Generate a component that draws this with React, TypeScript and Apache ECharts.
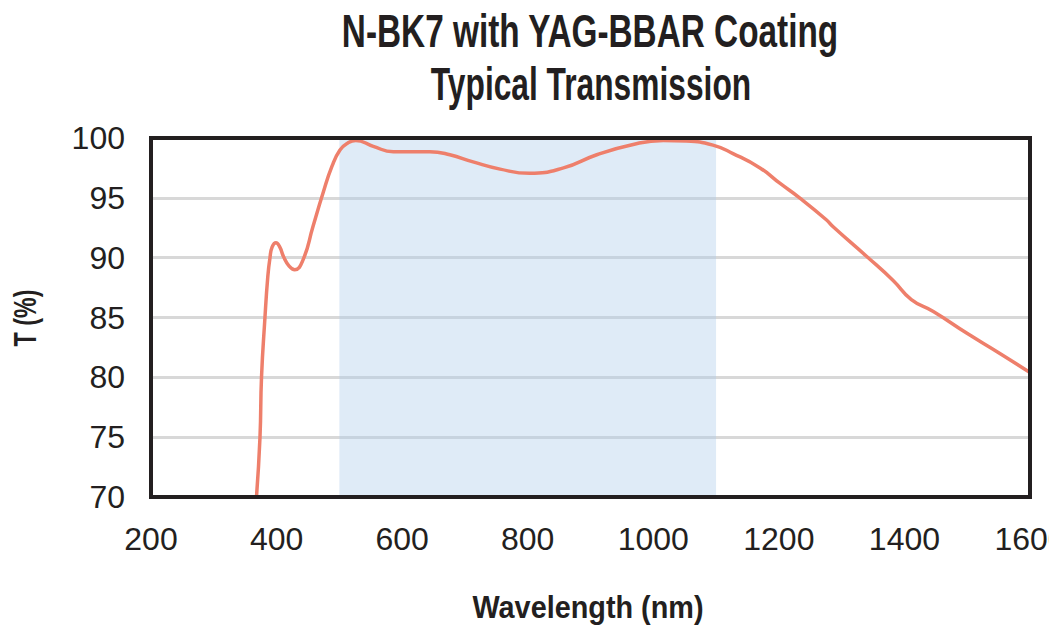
import React, { useEffect, useRef } from "react";
import * as echarts from "echarts";

const wavelengths = [
  368, 373.6, 376, 381.5, 386, 389.5, 393, 399, 405, 411, 420, 429, 442, 458, 474, 488, 501, 514, 526,
  554, 586, 644, 676, 713, 756, 803, 857, 910, 963, 1016, 1053, 1095, 1127, 1170, 1202, 1233, 1276,
  1286, 1340, 1382, 1411, 1446, 1499, 1552, 1600,
];
const transmission = [
  70, 75, 80, 85, 88.4, 90, 90.9, 91.25, 90.9, 90.1, 89.3, 89.0, 89.8, 92.6, 95.4, 97.6, 99.0, 99.6, 99.8,
  99.3, 98.85, 98.85, 98.6, 98.0, 97.4, 97.05, 97.5, 98.6, 99.4, 99.8, 99.75, 99.4, 98.7, 97.5, 96.2, 95.0,
  93.15, 92.6, 90.1, 88.1, 86.5, 85.5, 83.7, 82.0, 80.4,
];
const bandRange = [500, 1100];
const titleLines = ["N-BK7 with YAG-BBAR Coating", "Typical Transmission"];
const xName = "Wavelength (nm)";
const yName = "T (%)";

const FONT = "'Liberation Sans', Arial, sans-serif";
const INK = "#231f20";

export default function App() {
  const ref = useRef<HTMLDivElement>(null);
  useEffect(() => {
    document.body.style.margin = "0";
    const chart = echarts.init(ref.current!, null, { renderer: "svg" });
    const txt = (text: string, x: number, y: number, size: number, sx: number, rotation = 0) => ({
      type: "text",
      x,
      y,
      rotation,
      scaleX: sx,
      style: {
        text,
        font: `bold ${size}px ${FONT}`,
        fill: INK,
        textAlign: "center",
        textVerticalAlign: "middle",
      },
    });
    chart.setOption({
      animation: false,
      backgroundColor: "#ffffff",
      graphic: [
        txt(titleLines[0], 590, 32, 46, 0.725),
        txt(titleLines[1], 591, 84, 46, 0.69),
        txt(xName, 588, 607, 31, 0.93),
        txt(yName, 25, 318, 31, 0.75, Math.PI / 2),
      ],
      grid: {
        left: 151,
        right: 19,
        top: 138,
        bottom: 140,
        show: true,
        borderColor: INK,
        borderWidth: 4,
        backgroundColor: "transparent",
        z: 10,
        outerBoundsMode: "none",
        containLabel: false,
      },
      xAxis: {
        type: "value",
        min: 200,
        max: 1600,
        interval: 200,
        axisLine: { show: false },
        axisTick: { show: false },
        splitLine: { show: false },
        axisLabel: {
          color: INK,
          fontFamily: FONT,
          fontSize: 32,
          margin: 26,
          showMaxLabel: true,
          formatter: (v: number) => String(v),
        },
      },
      yAxis: {
        type: "value",
        min: 70,
        max: 100,
        interval: 5,
        axisLine: { show: false },
        axisTick: { show: false },
        splitLine: { show: true, lineStyle: { color: "#d8d8d8", width: 3 } },
        axisLabel: {
          color: INK,
          fontFamily: FONT,
          fontSize: 32,
          margin: 26,
          formatter: (v: number) => String(v),
        },
      },
      series: [
        {
          type: "line",
          data: wavelengths.map((w, i) => [w, transmission[i]]),
          showSymbol: false,
          smooth: 0.5,
          lineStyle: { color: "#ee7f6b", width: 3.5 },
          clip: true,
          markArea: {
            silent: true,
            itemStyle: { color: "rgba(176,205,234,0.4)" },
            data: [[{ xAxis: bandRange[0] }, { xAxis: bandRange[1] }]],
          },
        },
      ],
    });
    return () => chart.dispose();
  }, []);
  return <div ref={ref} style={{ width: 1049, height: 637 }} />;
}
